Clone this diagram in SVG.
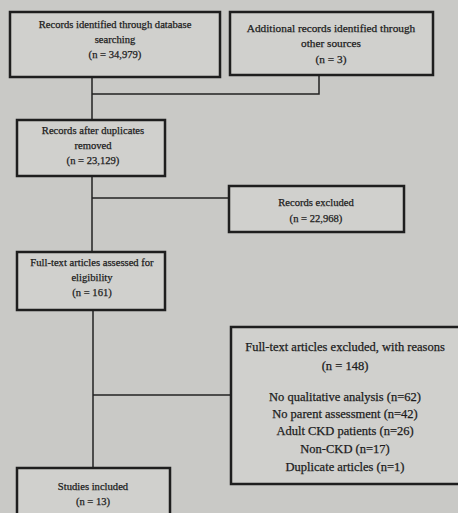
<svg xmlns="http://www.w3.org/2000/svg" width="458" height="513" viewBox="0 0 458 513">
<style>
.bg{fill:#c9c9c6}
.box{fill:#d0d0cd;stroke:#1e1e1e;stroke-width:2.5}
.t{font-family:"Liberation Serif","Times New Roman",serif;fill:#1c1c1c;text-anchor:middle;stroke:#1c1c1c;stroke-width:0.25}
.s{font-size:10.6px}
.m{font-size:11.3px}
.l{font-size:12.5px}
.c{fill:none;stroke:#222;stroke-width:1.5}
</style>
<rect class="bg" x="0" y="0" width="458" height="513"/>
<g id="connectors">
<path class="c" d="M92,77 V120"/>
<path class="c" d="M319,75 V94 H92"/>
<path class="c" d="M92,176 V253"/>
<path class="c" d="M92,198 H230"/>
<path class="c" d="M93,310 V468"/>
<path class="c" d="M93,395 H231"/>
</g>
<g id="n1">
<rect class="box" x="10" y="12" width="210" height="65"/>
<text class="t s" x="115" y="28">Records identified through database</text>
<text class="t s" x="115" y="43">searching</text>
<text class="t s" x="115" y="58">(n = 34,979)</text>
</g>
<g id="n2">
<rect class="box" x="230" y="12" width="203" height="63"/>
<text class="t m" x="331" y="32">Additional records identified through</text>
<text class="t m" x="331" y="47">other sources</text>
<text class="t m" x="331" y="63">(n = 3)</text>
</g>
<g id="n3">
<rect class="box" x="17" y="120" width="148" height="56"/>
<text class="t s" x="93" y="134">Records after duplicates</text>
<text class="t s" x="93" y="149">removed</text>
<text class="t s" x="93" y="164">(n = 23,129)</text>
</g>
<g id="n4">
<rect class="box" x="229" y="186" width="175" height="46"/>
<text class="t s" x="316" y="206">Records excluded</text>
<text class="t s" x="316" y="222">(n = 22,968)</text>
</g>
<g id="n5">
<rect class="box" x="17" y="252" width="148" height="58"/>
<text class="t s" x="92" y="266">Full-text articles assessed for</text>
<text class="t s" x="92" y="281">eligibility</text>
<text class="t s" x="92" y="296">(n = 161)</text>
</g>
<g id="n6">
<rect class="box" x="231" y="327" width="240" height="157"/>
<text class="t l" x="345" y="351">Full-text articles excluded, with reasons</text>
<text class="t l" x="345" y="370">(n = 148)</text>
<text class="t l" x="345" y="401">No qualitative analysis (n=62)</text>
<text class="t l" x="345" y="418">No parent assessment (n=42)</text>
<text class="t l" x="345" y="435">Adult CKD patients (n=26)</text>
<text class="t l" x="345" y="453">Non-CKD (n=17)</text>
<text class="t l" x="345" y="471">Duplicate articles (n=1)</text>
</g>
<g id="n7">
<rect class="box" x="17" y="468" width="153" height="50"/>
<text class="t s" x="93" y="490">Studies included</text>
<text class="t s" x="93" y="505">(n = 13)</text>
</g>
</svg>
